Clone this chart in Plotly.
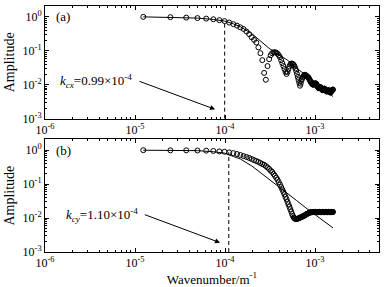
import plotly.graph_objects as go
from plotly.subplots import make_subplots

# ---- data ----
dk = 1.235e-5
wavenumber = [n * dk for n in range(1, 129)]

amp_a = [1.0, 0.98, 0.95, 0.92, 0.89, 0.85, 0.80, 0.75, 0.68, 0.61,
         0.55, 0.49, 0.44, 0.37, 0.31, 0.25, 0.21, 0.176, 0.126, 0.085,
         0.053, 0.0223, 0.0140, 0.0355, 0.0567, 0.0741, 0.0847, 0.0905, 0.0905, 0.088,
         0.082, 0.0741, 0.0648, 0.0530, 0.0434, 0.0355, 0.0291, 0.0238, 0.0208, 0.0238,
         0.0291, 0.0345, 0.0393, 0.0420, 0.0420, 0.0406, 0.0380, 0.0345, 0.0301, 0.0255,
         0.0208, 0.0170, 0.0140, 0.0114, 0.00935, 0.0107, 0.0131, 0.0149, 0.0165, 0.0176,
         0.0188, 0.0195, 0.0195, 0.0188, 0.0182, 0.0176, 0.0170, 0.0165, 0.0155, 0.0145,
         0.0135, 0.0126, 0.0118, 0.0110, 0.0107, 0.0103, 0.0100, 0.0100, 0.0103, 0.0107,
         0.0110, 0.0110, 0.0107, 0.0103, 0.0097, 0.0091, 0.0085, 0.0082, 0.0079, 0.0079,
         0.0082, 0.0085, 0.0085, 0.0082, 0.0077, 0.0074, 0.0072, 0.0069, 0.0069, 0.0072,
         0.0074, 0.0077, 0.0077, 0.0074, 0.0072, 0.0069, 0.0067, 0.0065, 0.0063, 0.0063,
         0.0065, 0.0067, 0.0069, 0.0069, 0.0067, 0.0065, 0.0063, 0.0061, 0.0059, 0.0059,
         0.0061, 0.0063, 0.0065, 0.0067, 0.0069, 0.0069, 0.0072, 0.0072]

amp_b = [1.0, 0.99, 0.99, 0.98, 0.97, 0.95, 0.92, 0.90, 0.86, 0.82,
         0.77, 0.72, 0.67, 0.63, 0.59, 0.55, 0.51, 0.48, 0.45, 0.42,
         0.39, 0.37, 0.34, 0.31, 0.28, 0.25, 0.23, 0.20, 0.176, 0.154,
         0.135, 0.114, 0.097, 0.082, 0.069, 0.059, 0.050, 0.042, 0.036, 0.030,
         0.0255, 0.0215, 0.0182, 0.0155, 0.0131, 0.0114, 0.0103, 0.0097, 0.0094, 0.0094,
         0.0094, 0.0096, 0.0099, 0.0100, 0.0102, 0.0105, 0.0107, 0.0110, 0.0112, 0.0114,
         0.0117, 0.0120, 0.0123, 0.0126, 0.0131, 0.0133, 0.0135, 0.0138, 0.0141, 0.0145,
         0.0146, 0.0147, 0.0148, 0.0149, 0.0150, 0.0150, 0.0151, 0.0151, 0.0150, 0.0150,
         0.0151, 0.0152, 0.0152, 0.0151, 0.0150, 0.0149, 0.0149, 0.0150, 0.0151, 0.0152,
         0.0152, 0.0151, 0.0150, 0.0149, 0.0149, 0.0150, 0.0151, 0.0152, 0.0152, 0.0151,
         0.0150, 0.0149, 0.0149, 0.0150, 0.0151, 0.0152, 0.0152, 0.0151, 0.0150, 0.0149,
         0.0149, 0.0150, 0.0151, 0.0152, 0.0152, 0.0151, 0.0150, 0.0149, 0.0149, 0.0150,
         0.0151, 0.0152, 0.0152, 0.0151, 0.0150, 0.0150, 0.0151, 0.0152]

fit_k = [1.235e-5, 4.94e-5, 7.4e-5, 9.9e-5, 1.24e-4, 1.48e-4, 1.98e-4, 2.47e-4, 3.09e-4,
         3.7e-4, 4.94e-4, 6.2e-4, 7.9e-4, 9.9e-4, 1.24e-3, 1.58e-3]
fit_a = [1.0, 0.92, 0.84, 0.75, 0.62, 0.513, 0.322, 0.195, 0.118,
         0.085, 0.053, 0.031, 0.0195, 0.0122, 0.0072, 0.0045]
fit_b = [1.0, 0.97, 0.90, 0.82, 0.65, 0.55, 0.344, 0.216, 0.135,
         0.094, 0.051, 0.0332, 0.020, 0.0126, 0.0080, 0.00513]

kc = [0.99e-4, 1.10e-4]
kc_labels = ["<i>k</i><sub><i>cx</i></sub>=0.99×10<sup>-4</sup>",
             "<i>k</i><sub><i>cy</i></sub>=1.10×10<sup>-4</sup>"]
panel_labels = ["(a)", "(b)"]

x_tickvals = [1e-6, 1e-5, 1e-4, 1e-3]
x_ticktext = ["10<sup>-6</sup>", "10<sup>-5</sup>", "10<sup>-4</sup>", "10<sup>-3</sup>"]
y_tickvals = [1e-3, 1e-2, 1e-1, 1]
y_ticktext = ["10<sup>-3</sup>", "10<sup>-2</sup>", "10<sup>-1</sup>", "10<sup>0</sup>"]

FONT = "Liberation Serif, Times New Roman, serif"

fig = make_subplots(rows=2, cols=1, vertical_spacing=0.084)

minor_x = [m * 10 ** e for e in range(-6, -2) for m in range(2, 10)]
minor_y = [m * 10 ** e for e in range(-3, 1) for m in range(2, 10)]

amps = [amp_a, amp_b]
fits = [fit_a, fit_b]
dash_top = [0.77, 0.87]
for i in range(2):
    r = i + 1
    fig.add_trace(go.Scatter(x=fit_k, y=fits[i], mode="lines",
                             line=dict(color="black", width=1), showlegend=False), row=r, col=1)
    fig.add_trace(go.Scatter(x=wavenumber, y=amps[i], mode="markers",
                             marker=dict(symbol="circle-open", size=5, color="black",
                                         line=dict(width=1, color="black")),
                             showlegend=False), row=r, col=1)
    fig.add_trace(go.Scatter(x=[kc[i], kc[i]], y=[1e-3, dash_top[i]], mode="lines",
                             line=dict(color="black", width=1, dash="4px,3px"),
                             showlegend=False), row=r, col=1)

axis_common = dict(type="log", showline=True, linecolor="black", linewidth=1, mirror="ticks",
                   ticks="inside", ticklen=4, tickcolor="black", showgrid=False, zeroline=False,
                   tickfont=dict(family=FONT, size=12, color="black"))
for i in range(2):
    r = i + 1
    fig.update_xaxes(range=[-6, -2.29], tickmode="array", tickvals=x_tickvals, ticktext=x_ticktext,
                     minor=dict(ticks="inside", ticklen=2, tickcolor="black", tickmode="array",
                                tickvals=minor_x, showgrid=False),
                     **axis_common, row=r, col=1)
    fig.update_yaxes(range=[-3, 0.32], tickmode="array", tickvals=y_tickvals, ticktext=y_ticktext,
                     minor=dict(ticks="inside", ticklen=2, tickcolor="black", tickmode="array",
                                tickvals=minor_y, showgrid=False),
                     title=dict(text="Amplitude", font=dict(family=FONT, size=14, color="black"),
                                standoff=4),
                     **axis_common, row=r, col=1)

fig.update_xaxes(title=dict(text="Wavenumber/m<sup>-1</sup>",
                            font=dict(family=FONT, size=13, color="black"), standoff=2),
                 row=2, col=1)

annots = []
arrow_tail = [(-4.967, -1.884), (-4.908, -1.884)]
arrow_head = [(-4.111, -2.725), (-4.056, -2.725)]
text_pos = [(-5.011, -1.884), (-4.944, -1.904)]
for i in range(2):
    xr = "x" if i == 0 else "x2"
    yr = "y" if i == 0 else "y2"
    annots.append(dict(x=arrow_head[i][0], y=arrow_head[i][1], ax=arrow_tail[i][0], ay=arrow_tail[i][1],
                       xref=xr, yref=yr, axref=xr, ayref=yr, text="", showarrow=True,
                       arrowhead=2, arrowsize=1, arrowwidth=1, arrowcolor="black", standoff=0))
    annots.append(dict(x=text_pos[i][0], y=text_pos[i][1], xref=xr, yref=yr, text=kc_labels[i],
                       showarrow=False, xanchor="right", yanchor="middle",
                       font=dict(family=FONT, size=13, color="black")))
    annots.append(dict(x=-5.9, y=0, xref=xr, yref=yr, text=panel_labels[i], showarrow=False,
                       xanchor="left", yanchor="middle",
                       font=dict(family=FONT, size=13, color="black")))

fig.update_layout(width=391, height=287, margin=dict(l=45, r=12, t=5, b=33),
                  paper_bgcolor="white", plot_bgcolor="white", annotations=annots,
                  font=dict(family=FONT, color="black"))

fig.write_html("out.html", config={"displayModeBar": False},
               post_script="document.body.style.margin='0';document.body.style.padding='0';")
